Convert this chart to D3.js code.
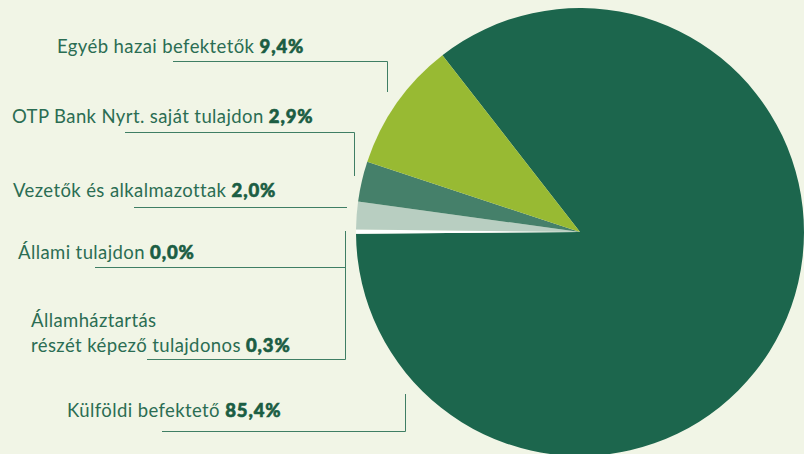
<!DOCTYPE html>
<html>
<head>
<meta charset="utf-8">
<script src="https://cdn.jsdelivr.net/npm/d3@7"></script>
<style>
	html, body { margin: 0; padding: 0; background: #f1f5e6; }
	svg { display: block; }
	.lbl { font-family: Lato, "Open Sans", sans-serif; font-size: 18.5px; letter-spacing: 0.4px; fill: #2b6d53; }
	.val { font-weight: 900; letter-spacing: 0.9px; fill: #1b5d43; stroke: #1b5d43; stroke-width: 0.6px; }
</style>
</head>
<body>
<div id="chart"></div>
<script>
// adatok
var categories = ['Külföldi befektető', 'Államháztartás részét képező tulajdonos', 'Állami tulajdon', 'Vezetők és alkalmazottak', 'OTP Bank Nyrt. saját tulajdon', 'Egyéb hazai befektetők'];
var shares = [85.4, 0.3, 0.0, 2.0, 2.9, 9.4];
var valueLabels = ['85,4%', '0,3%', '0,0%', '2,0%', '2,9%', '9,4%'];
var sliceColors = ['#1c664d', '#ffffff', '#ffffff', '#b8cec1', '#45806a', '#98ba33'];

// címkék elhelyezése (szöveg sorai, x, alapvonal, vezetővonal)
var labelLines = [
	['Külföldi befektető'],
	['Államháztartás', 'részét képező tulajdonos'],
	['Állami tulajdon'],
	['Vezetők és alkalmazottak'],
	['OTP Bank Nyrt. saját tulajdon'],
	['Egyéb hazai befektetők']
];
var labelX = [67, 31, 18, 13, 12, 57];
var labelY = [417, 327, 259, 197, 123, 53];
var leaders = [
	[[162, 431.5], [405.5, 431.5], [405.5, 394]],
	[[147, 359.5], [345.5, 359.5], [345.5, 267]],
	[[95, 267.5], [345.5, 267.5], [345.5, 231]],
	[[134, 207.5], [347, 207.5]],
	[[125, 132.5], [354.5, 132.5], [354.5, 176]],
	[[173, 61.5], [387.5, 61.5], [387.5, 92]]
];

var width = 804, height = 454;
var cx = 580, cy = 232, radius = 224;

var svg = d3.select('#chart').append('svg')
	.attr('width', width)
	.attr('height', height);

svg.append('rect')
	.attr('width', width)
	.attr('height', height)
	.attr('fill', '#f1f5e6');

var startAngle = -37.9 * Math.PI / 180;
var pie = d3.pie()
	.sort(null)
	.value(function(d){ return d; })
	.startAngle(startAngle)
	.endAngle(startAngle + 2 * Math.PI);

var arc = d3.arc().innerRadius(0).outerRadius(radius);

svg.append('g')
	.attr('transform', 'translate(' + cx + ',' + cy + ')')
	.selectAll('path')
	.data(pie(shares))
	.enter().append('path')
	.attr('d', arc)
	.attr('fill', function(d, i){ return sliceColors[i]; });

// vezetővonalak
var line = d3.line();
svg.append('g')
	.selectAll('path')
	.data(leaders)
	.enter().append('path')
	.attr('d', line)
	.attr('fill', 'none')
	.attr('stroke', '#3f7e64')
	.attr('stroke-width', 1);

// feliratok
var labels = svg.append('g')
	.selectAll('text')
	.data(categories)
	.enter().append('text')
	.attr('class', 'lbl')
	.attr('x', function(d, i){ return labelX[i]; })
	.attr('y', function(d, i){ return labelY[i]; });

labels.each(function(d, i){
	var t = d3.select(this);
	var rows = labelLines[i];
	rows.forEach(function(r, j){
		t.append('tspan')
			.attr('x', labelX[i])
			.attr('dy', j === 0 ? 0 : 25)
			.text(r);
		if(j === rows.length - 1){
			t.append('tspan').text(' ');
			t.append('tspan').attr('class', 'val').text(valueLabels[i]);
		}
	});
});
</script>
</body>
</html>
